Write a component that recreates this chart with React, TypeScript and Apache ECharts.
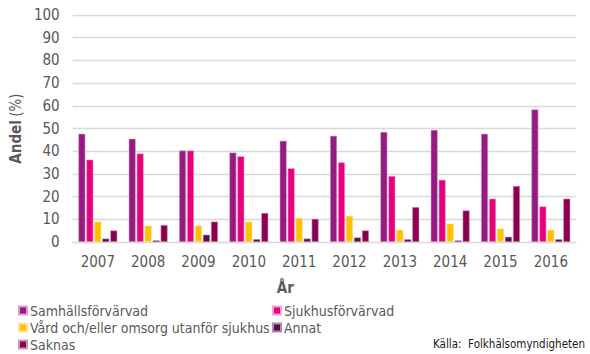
import React, { useEffect, useRef } from "react";
import * as echarts from "echarts";

const years = ["2007", "2008", "2009", "2010", "2011", "2012", "2013", "2014", "2015", "2016"];
const samhall = [47.7, 45.5, 40.3, 39.4, 44.6, 46.8, 48.5, 49.4, 47.7, 58.4];
const sjukhus = [36.3, 39.0, 40.3, 37.8, 32.5, 35.1, 29.1, 27.4, 19.1, 15.7];
const vard = [9.0, 7.2, 7.2, 9.0, 10.6, 11.5, 5.4, 8.1, 5.9, 5.4];
const annat = [1.5, 0.7, 3.2, 1.2, 1.5, 2.0, 1.2, 0.7, 2.3, 1.2];
const saknas = [5.1, 7.5, 9.0, 12.8, 10.2, 5.1, 15.4, 13.9, 24.7, 19.1];

const seriesNames = [
  "Samhällsförvärvad",
  "Sjukhusförvärvad",
  "Vård och/eller omsorg utanför sjukhus",
  "Annat",
  "Saknas",
];
const seriesData = [samhall, sjukhus, vard, annat, saknas];
const colors = ["#951B81", "#E5007D", "#FFC000", "#4E1247", "#8A004F"];
const borders = ["#D7A3CD", "#F5A3CC", "#FFE299", "#B08AAC", "#D199B9"];

const FONT = "'DejaVu Sans Condensed', 'Noto Sans', sans-serif";

const legendText = { fontFamily: FONT, fontSize: 14, color: "#595959", lineHeight: 17, padding: [0, 0, 0, -2] };

export default function App() {
  const ref = useRef<HTMLDivElement>(null);
  useEffect(() => {
    if (!ref.current) return;
    const chart = echarts.init(ref.current, null, { renderer: "svg" });
    chart.setOption({
      animation: false,
      backgroundColor: "#ffffff",
      textStyle: { fontFamily: FONT },
      grid: { left: 62, right: 14, top: 15, bottom: 112, containLabel: false },
      legend: [
        {
          orient: "vertical",
          left: 18,
          top: 302,
          padding: 0,
          itemWidth: 8,
          itemHeight: 8,
          itemGap: 0,
          icon: "rect",
          data: [seriesNames[0], seriesNames[2], seriesNames[4]],
          textStyle: legendText,
        },
        {
          orient: "vertical",
          left: 272,
          top: 302,
          padding: 0,
          itemWidth: 8,
          itemHeight: 8,
          itemGap: 0,
          icon: "rect",
          data: [seriesNames[1], seriesNames[3]],
          textStyle: legendText,
        },
      ],
      xAxis: {
        type: "category",
        data: years,
        name: "År",
        nameLocation: "middle",
        nameGap: 38,
        nameTextStyle: {
          fontFamily: FONT,
          fontSize: 15,
          fontWeight: "bold",
          color: "#595959",
          padding: [0, 78, 0, 0],
        },
        axisLine: { lineStyle: { color: "#D9D9D9", width: 1 } },
        axisTick: { show: false },
        axisLabel: { fontFamily: FONT, fontSize: 15, color: "#595959", margin: 12 },
      },
      yAxis: {
        type: "value",
        min: 0,
        max: 100,
        interval: 10,
        name: "{b|Andel} {n|(%)}",
        nameLocation: "middle",
        nameGap: 40,
        nameRotate: 90,
        nameTextStyle: {
          fontFamily: FONT,
          color: "#595959",
          rich: {
            b: { fontFamily: FONT, fontSize: 15, fontWeight: "bold", color: "#595959" },
            n: { fontFamily: FONT, fontSize: 15, color: "#595959" },
          },
        },
        axisLine: { show: false },
        axisTick: { show: false },
        splitLine: { lineStyle: { color: "#D9D9D9", width: 1.3 } },
        axisLabel: { fontFamily: FONT, fontSize: 15, color: "#595959", margin: 13 },
      },
      series: seriesNames.map((name, i) => ({
        name,
        type: "bar",
        data: seriesData[i],
        barWidth: 7,
        barGap: "14%",
        itemStyle: { color: colors[i], borderColor: borders[i], borderWidth: 0.6 },
      })),
      graphic: [
        {
          type: "text",
          right: 5,
          top: 338,
          style: {
            text: "Källa:  Folkhälsomyndigheten",
            fontFamily: FONT,
            fontSize: 11.5,
            fill: "#1a1a1a",
          },
        },
      ],
    });
    return () => chart.dispose();
  }, []);
  return <div ref={ref} style={{ width: 590, height: 354, position: "absolute", left: 0, top: 0 }} />;
}
